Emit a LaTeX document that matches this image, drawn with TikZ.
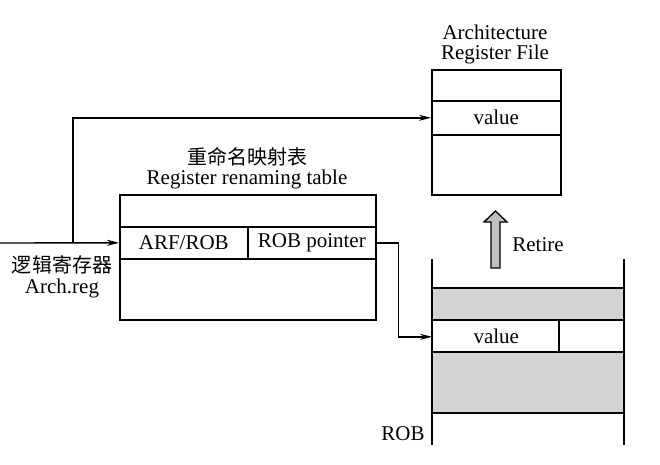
\documentclass[tikz,border=0pt]{standalone}
\usepackage{fontspec}
\setmainfont{Liberation Serif}
\newfontfamily\cjk{Noto Sans CJK SC}
\usetikzlibrary{arrows.meta}
\begin{document}
\begin{tikzpicture}[x=1pt,y=-1pt,
  every node/.style={font=\fontsize{21}{23}\selectfont, inner sep=0pt},
  cell/.style={draw, line width=1.6pt, anchor=north west, minimum width=#1},
  lbl/.style={anchor=center},
  conn/.style={line width=1.4pt, -{Stealth[length=12pt,width=6pt]}},
  robline/.style={line width=1.6pt},
  shade/.style={fill=black!17}
]
\useasboundingbox (0,0) rectangle (660,464);
% Architecture register file
\node[lbl] (arftitle1) at (495,32) {Architecture};
\node[lbl] (arftitle2) at (495,54) {Register File};
\node[cell=129, minimum height=31] (arf1) at (431,69) {};
\node[cell=129, minimum height=34] (arfval) at (431,100) {value};
\node[cell=129, minimum height=60] (arf3) at (431,134) {};
% Rename table
\node[lbl] (rtt1) at (247,157) {\cjk\fontsize{20}{22}\selectfont 重命名映射表};
\node[lbl] (rtt2) at (247,179) {Register renaming table};
\node[cell=256, minimum height=32] (ren1) at (119,194) {};
\node[cell=128, minimum height=32] (arfrob) at (119,226) {ARF/ROB};
\node[cell=128, minimum height=32] (robptr) at (247,226) {ROB pointer};
\node[cell=256, minimum height=61] (ren3) at (119,258) {};
% Arch reg label
\node[lbl] (al1) at (62,265) {\cjk\fontsize{20}{22}\selectfont 逻辑寄存器};
\node[lbl] (al2) at (62,288) {Arch.reg};
% ROB
\fill[shade] (432,288) rectangle (624,320);
\fill[shade] (432,352) rectangle (624,413);
\node[cell=127, minimum height=32, draw=none] (robval) at (432,320) {value};
\node[cell=65, minimum height=32, draw=none] (robcell2) at (559,320) {};
\draw[robline] (432,259) -- (432,445);
\draw[robline] (624,259) -- (624,445);
\draw[robline] (432,288) -- (624,288);
\draw[robline] (432,320) -- (624,320);
\draw[robline] (432,352) -- (624,352);
\draw[robline] (432,413) -- (624,413);
\draw[robline] (559,320) -- (559,352);
\node[lbl] (roblbl) at (403,434) {ROB};
% Retire arrow
\draw[line width=1.3pt, fill=black!25] (491,268) -- (491,222) -- (484,222) -- (495.5,211) -- (507,222) -- (500,222) -- (500,268) -- cycle;
\node[lbl] (retire) at (538,245) {Retire};
% connectors
\coordinate (in) at (0,243);
\coordinate (br) at (73,243);
\draw[conn] (in) -- (arfrob.west);
\draw[conn] (br) |- (arfval.west);
\draw[conn] (robptr.east) -- ++(22,0) |- (robval.west);
\end{tikzpicture}
\end{document}
